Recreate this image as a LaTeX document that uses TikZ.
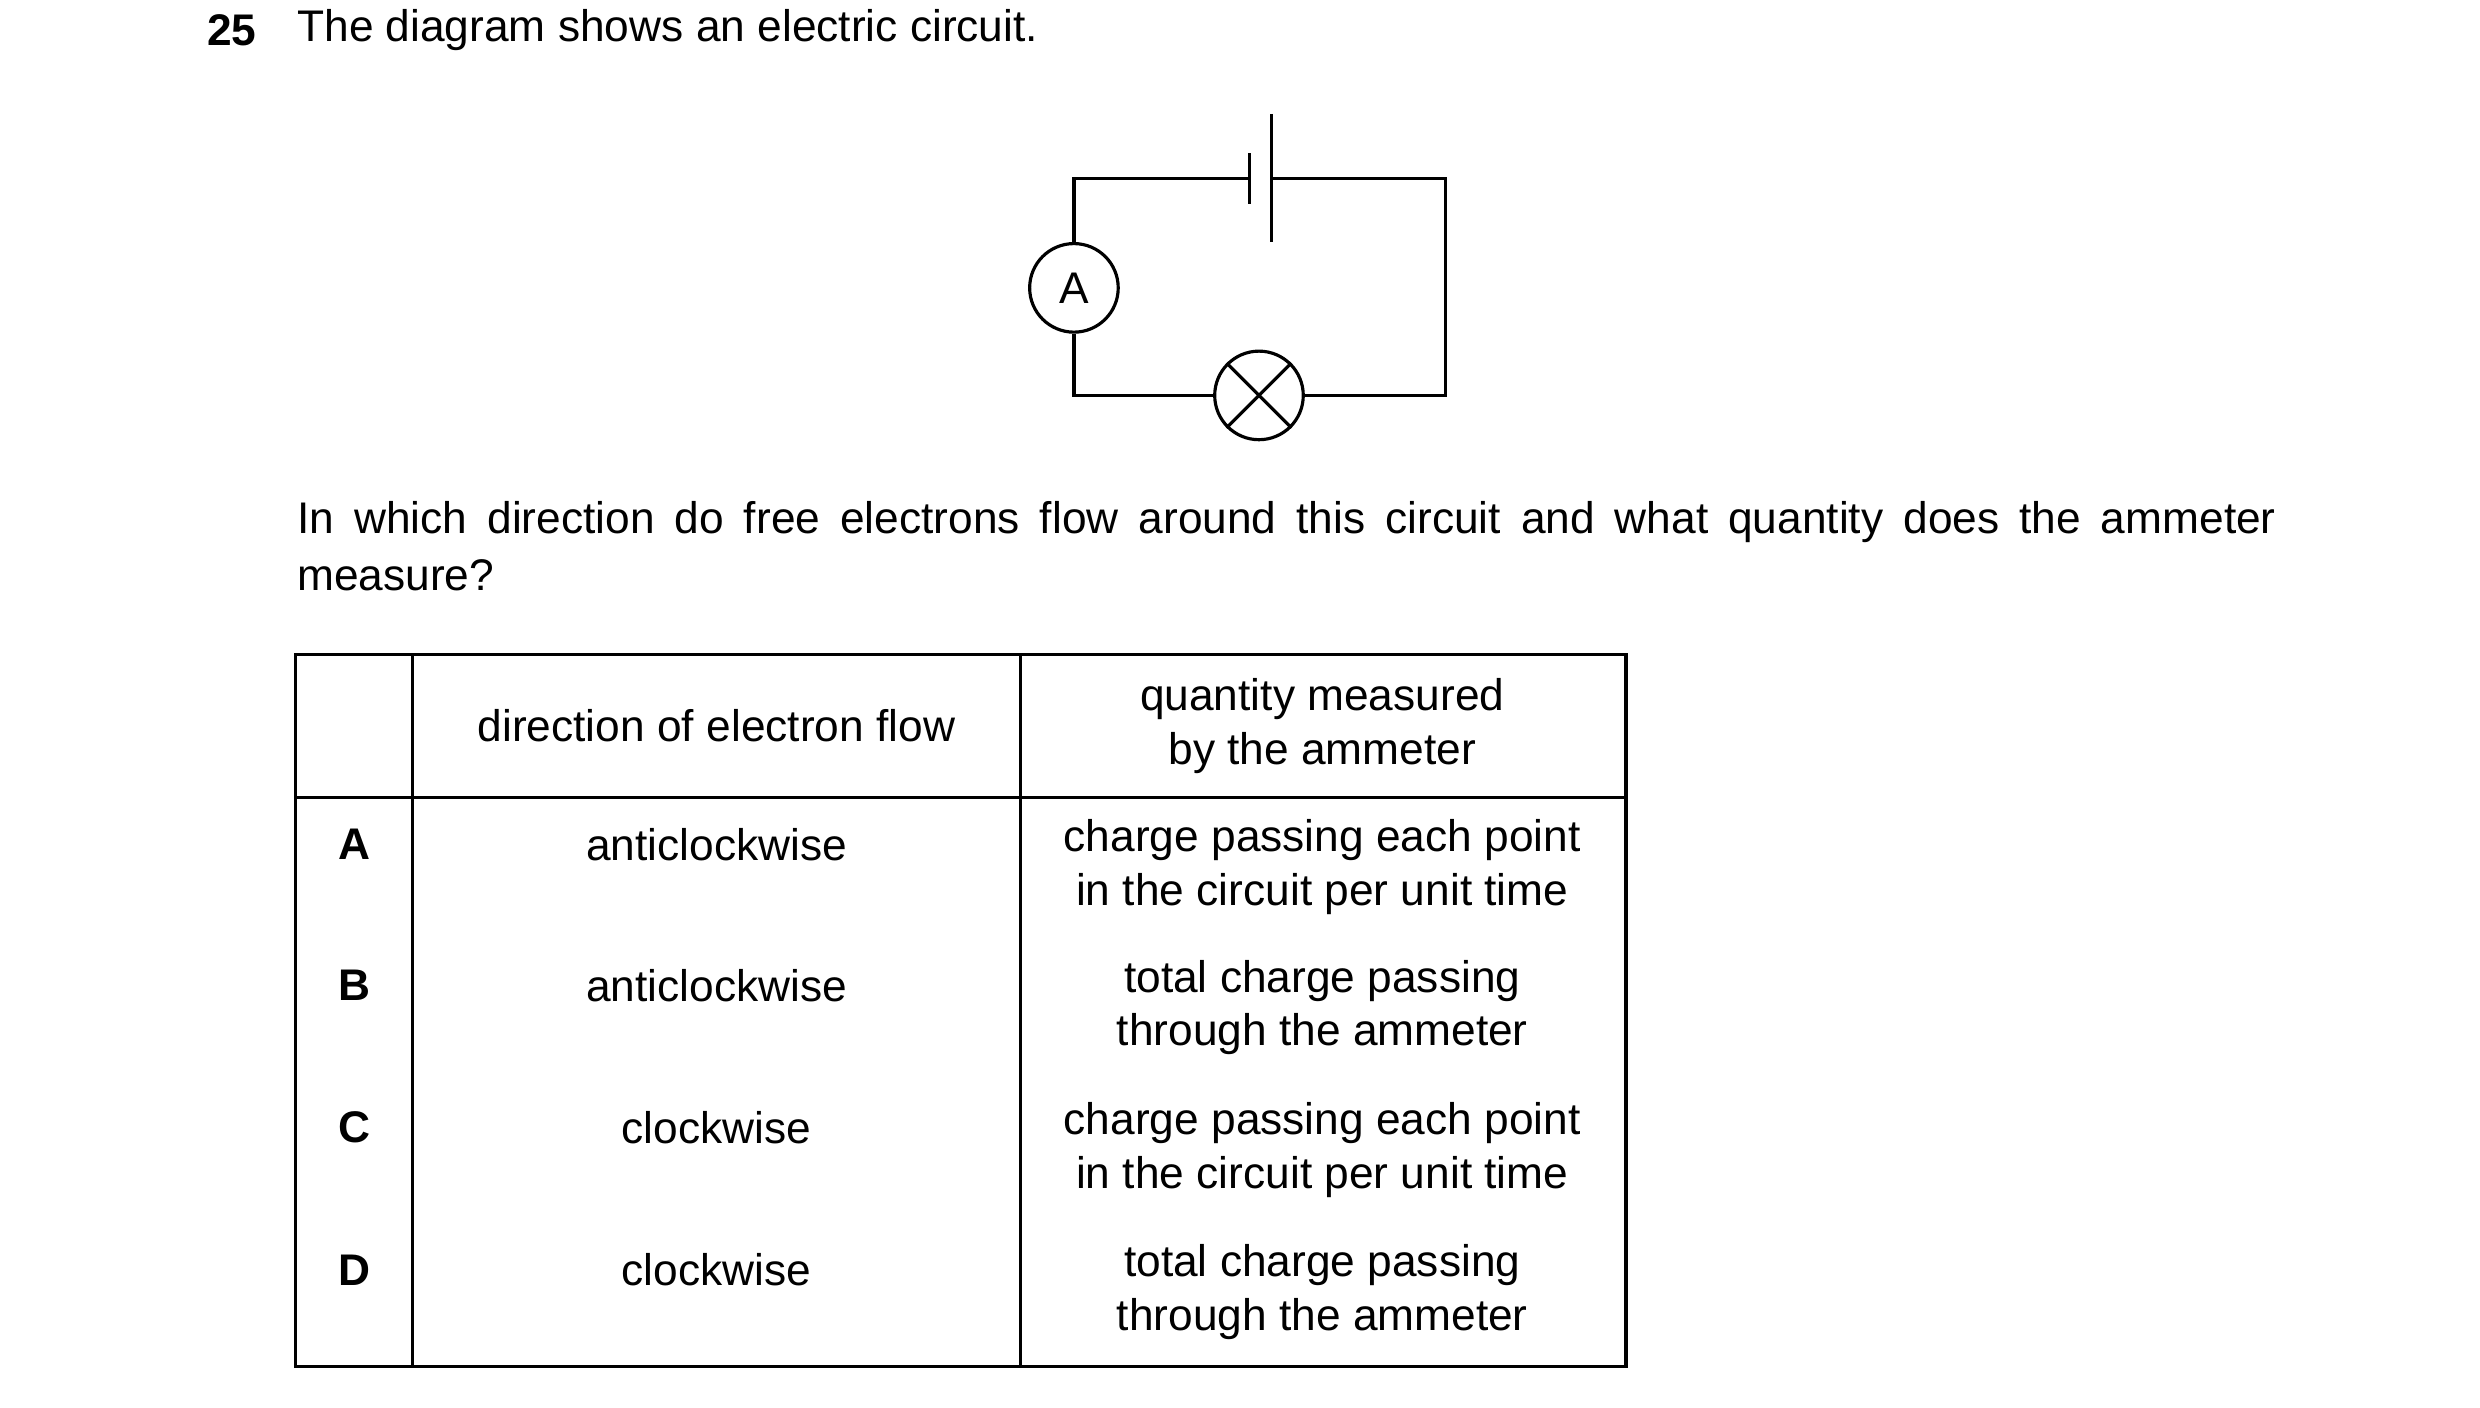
\documentclass[tikz,border=0pt]{standalone}
\usepackage{fontspec}
\setmainfont{Liberation Sans}
\begin{document}
\begin{tikzpicture}[x=0.5pt,y=-0.5pt,line width=1pt,
  txt/.style={inner sep=0pt,font=\fontsize{14}{17}\selectfont},
  cell/.style={txt,align=center}]
\useasboundingbox (0,0) rectangle (1568,890);
\fill[white] (0,0) rectangle (1568,890);
\node[txt,anchor=west] (num) at (130,19) {\textbf{25}};
\node[txt,anchor=west] (title) at (187,19) {The diagram shows an electric circuit.};
% circuit
\coordinate (tl) at (679,113); \coordinate (tr) at (914,113);
\coordinate (bl) at (679,250); \coordinate (br) at (914,250);
\coordinate (ps) at (790,113); \coordinate (pl) at (804,113);
\node[circle,draw,minimum size=56pt*0.5,inner sep=0pt,font=\fontsize{14}{17}\selectfont] (amm) at (679,182) {A};
\node[circle,draw,minimum size=28pt,inner sep=0pt] (lamp) at (796,250) {};
\draw (amm.north) -- (tl) -- (ps);
\draw (pl) -- (tr) -- (br) -- (lamp.east);
\draw (lamp.west) -- (bl) -- (amm.south);
\draw (790,97) -- (790,129);
\draw (804,72) -- (804,153);
\draw (lamp.north west) -- (lamp.south east);
\draw (lamp.north east) -- (lamp.south west);
% question
\node[txt,anchor=west] (q1) at (187,330) {\makebox[625.5pt][s]{In which direction do free electrons flow around this circuit and what quantity does the ammeter}};
\node[txt,anchor=west] (q2) at (187,364) {measure?};
% table
\draw (187,414) rectangle (1028,864);
\draw (261,414) -- (261,864);
\draw (645,414) -- (645,864);
\draw (187,504) -- (1028,504);
\node[cell] (h2) at (453,459) {direction of electron flow};
\node[cell] (h3) at (836,459) {quantity measured\\by the ammeter};
\foreach \l/\y/\d/\q in {A/534/anticlockwise/{charge passing each point\\in the circuit per unit time},
  B/623/anticlockwise/{total charge passing\\through the ammeter},
  C/713/clockwise/{charge passing each point\\in the circuit per unit time},
  D/803/clockwise/{total charge passing\\through the ammeter}}{
  \node[cell] (l\l) at (224,\y) {\textbf{\l}};
  \node[cell] (d\l) at (453,\y) {\d};
  \node[cell,anchor=north] (q\l) at (836,\y-17) {\q};
}
\end{tikzpicture}
\end{document}
